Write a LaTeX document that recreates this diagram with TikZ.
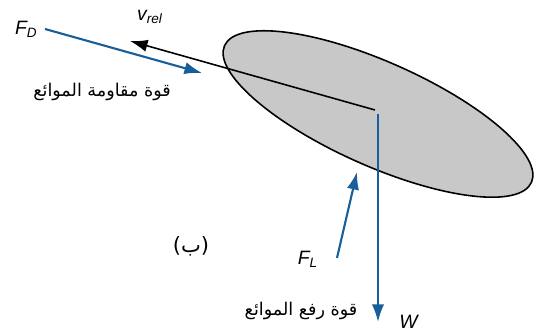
\documentclass[tikz,border=0pt]{standalone}
\usepackage{fontspec}
\setmainfont{Liberation Sans}
\newfontfamily\arabicfont[Script=Arabic]{DejaVu Sans}
\TeXXeTstate=1
\usetikzlibrary{arrows.meta,positioning}
\definecolor{forceblue}{RGB}{24,94,152}
\definecolor{bodygray}{RGB}{200,200,200}

\begin{document}
\begin{tikzpicture}[
        force/.style={draw=forceblue, line width=1.2pt, -{Latex[length=10pt,width=7pt]}},
        vel/.style={draw=black, line width=0.9pt, -{Latex[length=10pt,width=7pt]}},
        sym/.style={font=\itshape\fontsize{11}{11}\selectfont, inner sep=0pt},
        arlabel/.style={font=\arabicfont\fontsize{10}{10}\selectfont, inner sep=0pt}]

    \useasboundingbox (0,0) rectangle (10.7,6.68);

    % particle
    \coordinate (cg) at (7.56,4.40);
    \filldraw[fill=bodygray, line width=0.9pt, rotate around={-24:(cg)}] (cg) ellipse (3.36 and 1.04);

    % end points
    \coordinate (vstart) at (7.50,4.48);
    \coordinate (vtip) at (2.60,5.86);
    \coordinate (wtip) at (7.56,0.24);
    \coordinate (fdstart) at (0.90,6.10);
    \coordinate (fdtip) at (4.04,5.22);
    \coordinate (flstart) at (6.74,1.52);
    \coordinate (fltip) at (7.14,3.24);

    % vectors
    \draw[vel] (vstart) -- (vtip);
    \draw[force] (cg) -- (wtip);
    \draw[force] (fdstart) -- (fdtip);
    \draw[force] (flstart) -- (fltip);

    % labels
    \node[sym, left=4pt of fdstart] (fd) {F\textsubscript{D}};
    \node[sym] (vrel) at (3.00,6.34) {v\textsubscript{rel}};
    \node[sym] (fl) at (6.16,1.50) {F\textsubscript{L}};
    \node[sym, right=12pt of wtip] (w) {W};
    \node[arlabel] (drag) at (2.04,4.84) {\beginR قوة مقاومة الموائع\endR};
    \node[arlabel] (lift) at (6.02,0.46) {\beginR قوة رفع الموائع\endR};
    \node[arlabel, font=\arabicfont\fontsize{12}{12}\selectfont] (tag) at (3.82,1.76) {(ب)};

\end{tikzpicture}
\end{document}
